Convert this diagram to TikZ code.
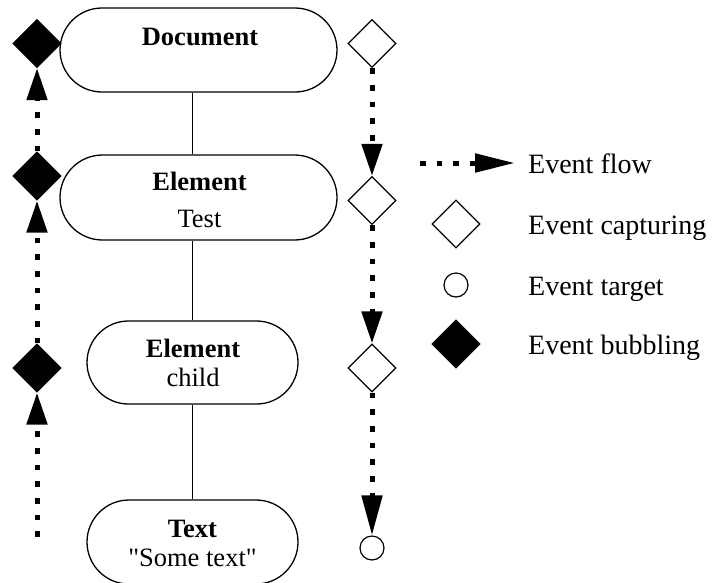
\documentclass[tikz,border=0pt]{standalone}
\usepackage{fontspec}
\setmainfont{Liberation Serif}[Ligatures=TeXOff]
\usetikzlibrary{shapes.geometric,shapes.misc,arrows.meta,backgrounds}

\tikzset{
  objbox/.style={rounded rectangle, draw, line width=1.3pt, inner sep=0pt},
  boxtext/.style={inner sep=0pt, anchor=base, font=\fontsize{26.5}{30}\selectfont},
  legtext/.style={inner sep=0pt, anchor=base west, font=\fontsize{28}{32}\selectfont},
  tree/.style={line width=1pt},
  capture/.style={diamond, draw, fill=white, line width=1.2pt, aspect=1,
    minimum width=48pt, minimum height=48pt, inner sep=0pt},
  bubble/.style={capture, fill=black},
  target/.style={circle, draw, line width=1.2pt, minimum size=24pt, inner sep=0pt},
  flow/.style={line width=5pt, dash pattern=on 5.7pt off 11pt,
    -{Triangle[length=32pt,width=20pt]}},
  flowlong/.style={flow, -{Triangle[length=40pt,width=20pt]}}
}

\begin{document}
\begin{tikzpicture}[x=1pt, y=-1pt]
\useasboundingbox (0,0) rectangle (712,582);

% document tree
\node[objbox, minimum width=277pt, minimum height=84pt] (doc) at (198.5,50) {};
\node[objbox, minimum width=277pt, minimum height=85pt] (elem) at (198.5,197.5) {};
\node[objbox, minimum width=211pt, minimum height=83pt] (chl) at (192.5,362.5) {};
\node[objbox, minimum width=211pt, minimum height=84pt] (txt) at (192.5,542) {};

\node[boxtext] (docA) at (200,45) {\textbf{Document}};
\node[boxtext] (elemA) at (199.5,190) {\textbf{Element}};
\node[boxtext] (elemB) at (199.5,227) {Test};
\node[boxtext] (chlA) at (193,357) {\textbf{Element}};
\node[boxtext] (chlB) at (193,386) {child};
\node[boxtext] (txtA) at (192.5,537) {\textbf{Text}};
\node[boxtext] (txtB) at (192.5,566) {"Some text"};

\draw[tree] (doc.south -| chl.center) -- (elem.north -| chl.center);
\draw[tree] (elem.south -| chl.center) -- (chl.north);
\draw[tree] (chl.south) -- (txt.north);

% capturing phase
\node[capture] (c1) at (372,43.5) {};
\node[capture] (c2) at (372,200.5) {};
\node[capture] (c3) at (372,368) {};
\node[target] (tg) at (372,548) {};

% bubbling phase
\coordinate (b0) at (37,537);
\node[bubble] (b3) at (37,368) {};
\node[bubble] (b2) at (37,176) {};
\node[bubble] (b1) at (37,43.5) {};

% event flow arrows, kept behind the diamonds
\begin{scope}[on background layer]
\draw[flow] (c1.south) -- (c2.north);
\draw[flow] (c2.south) -- (c3.north);
\draw[flowlong] (c3.south) -- (tg.north);
\draw[flow] (b0) -- (b3.south);
\draw[flow] (b3.north) -- (b2.south);
\draw[flow] (b2.north) -- (b1.south);
\end{scope}

% legend
\coordinate (lf0) at (420,163);
\coordinate (lf1) at (515,163);
\draw[flow, -{Triangle[length=40pt,width=18pt]}] (lf0) -- (lf1);
\node[capture] (lc) at (456,224) {};
\node[target] (lt) at (456,285) {};
\node[bubble] (lb) at (456,344) {};
\node[legtext] (lft) at (528,173) {Event flow};
\node[legtext] (lct) at (528,234) {Event capturing};
\node[legtext] (ltt) at (528,295) {Event target};
\node[legtext] (lbt) at (528,354) {Event bubbling};
\end{tikzpicture}
\end{document}
